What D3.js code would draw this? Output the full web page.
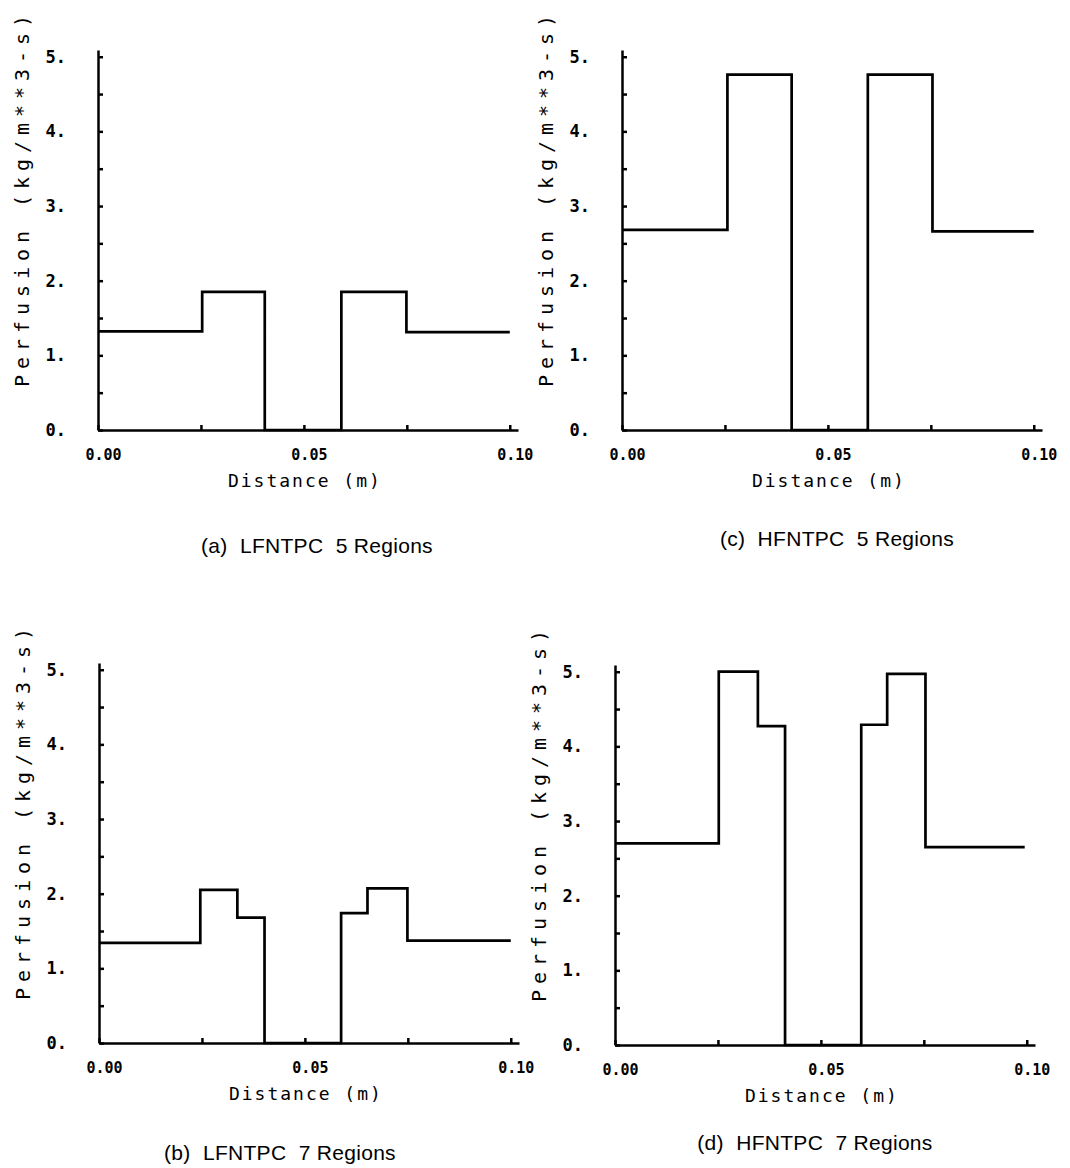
<!DOCTYPE html>
<html>
<head>
<meta charset="utf-8">
<script src="https://cdn.jsdelivr.net/npm/d3@7"></script>
<style>
  body { margin: 0; background: #fff; }
  .axis path, .axis line { stroke: #000; stroke-width: 2.5; }
  .axis text { font-family: "DejaVu Sans Mono", monospace; font-weight: 700; fill: #000; }
  .ylab text { font-size: 17px; }
  .xlab text { font-size: 15px; }
  .title { font-family: "DejaVu Sans Mono", monospace; fill: #000; }
  .caption { font-family: "Liberation Sans", Arial, sans-serif; font-size: 21px; fill: #000;
             white-space: pre; letter-spacing: 0.3px; }
  .step { fill: none; stroke: #000; stroke-width: 2.7; }
</style>
</head>
<body>
<div id="chart"></div>
<script>

// axis ticks
var distTicks = [0, 0.025, 0.05, 0.075, 0.1];
var distLabels = [0, 0.05, 0.1];
var perfTicks = [0, 0.5, 1, 1.5, 2, 2.5, 3, 3.5, 4, 4.5, 5];
var perfLabels = [0, 1, 2, 3, 4, 5];

// region boundaries (m) and perfusion in each region (kg/m**3-s)
var edgesA = [0, 0.0253, 0.0405, 0.0591, 0.0749, 0.1];
var perfA  = [1.32, 1.85, 0, 1.85, 1.31];

var edgesB = [0, 0.0246, 0.0336, 0.0402, 0.0588, 0.0652, 0.0749, 0.1];
var perfB  = [1.34, 2.05, 1.68, 0, 1.74, 2.07, 1.37];

var edgesC = [0, 0.0256, 0.0412, 0.0597, 0.0754, 0.1];
var perfC  = [2.68, 4.76, 0, 4.76, 2.66];

var edgesD = [0, 0.0252, 0.0347, 0.0413, 0.0598, 0.0661, 0.0754, 0.0995];
var perfD  = [2.70, 5.0, 4.27, 0, 4.29, 4.97, 2.65];

var captions = ["(a)  LFNTPC  5 Regions", "(b)  LFNTPC  7 Regions",
                "(c)  HFNTPC  5 Regions", "(d)  HFNTPC  7 Regions"];

var xLabel = "Distance (m)",
    yLabel = "Perfusion (kg/m**3-s)";

// layout: left/bottom of each plot, caption centre + baseline
var panels = [
  {edges: edgesA, perf: perfA, cap: captions[0], left: 98,  bottom: 430,  capX: 317, capY: 553},
  {edges: edgesB, perf: perfB, cap: captions[1], left: 99,  bottom: 1043, capX: 280, capY: 1160},
  {edges: edgesC, perf: perfC, cap: captions[2], left: 622, bottom: 430,  capX: 837, capY: 546},
  {edges: edgesD, perf: perfD, cap: captions[3], left: 615, bottom: 1045, capX: 815, capY: 1150}
];

var width = 420, height = 380;

var svg = d3.select("#chart").append("svg")
    .attr("width", 1070)
    .attr("height", 1168);

panels.forEach(function(p) {

  var x = d3.scaleLinear().domain([0, 0.102]).range([0, width]);
  var y = d3.scaleLinear().domain([0, 5.09]).range([height, 0]);

  var g = svg.append("g")
      .attr("transform", "translate(" + p.left + "," + (p.bottom - height) + ")");

  g.append("g")
      .attr("class", "axis xlab")
      .attr("transform", "translate(0," + height + ")")
      .call(d3.axisBottom(x)
        .tickValues(distTicks)
        .tickSizeInner(-5)
        .tickSizeOuter(0)
        .tickPadding(19)
        .tickFormat(function(d) { return distLabels.indexOf(d) >= 0 ? d3.format(".2f")(d) : ""; }))
    .selectAll("text")
      .attr("dx", 5);

  g.append("g")
      .attr("class", "axis ylab")
      .call(d3.axisLeft(y)
        .tickValues(perfTicks)
        .tickSizeInner(-5)
        .tickSizeOuter(0)
        .tickPadding(32)
        .tickFormat(function(d) { return perfLabels.indexOf(d) >= 0 ? d + "." : ""; }));

  var pts = p.edges.map(function(e, i) { return [e, p.perf[Math.min(i, p.perf.length - 1)]]; });

  g.append("path")
      .attr("class", "step")
      .attr("d", d3.line()
        .curve(d3.curveStepAfter)
        .x(function(d) { return x(d[0]); })
        .y(function(d) { return y(d[1]); })(pts));

  g.append("text")
      .attr("class", "title")
      .attr("x", x(0.05))
      .attr("y", height + 57)
      .attr("text-anchor", "middle")
      .attr("font-size", 18)
      .attr("textLength", 152)
      .attr("lengthAdjust", "spacing")
      .text(xLabel);

  g.append("text")
      .attr("class", "title")
      .attr("transform", "translate(-69," + (height - 229) + ") rotate(-90)")
      .attr("text-anchor", "middle")
      .attr("font-size", 20)
      .attr("textLength", 372)
      .attr("lengthAdjust", "spacing")
      .text(yLabel);

  svg.append("text")
      .attr("class", "caption")
      .attr("x", p.capX)
      .attr("y", p.capY)
      .attr("text-anchor", "middle")
      .text(p.cap);
});

</script>
</body>
</html>
